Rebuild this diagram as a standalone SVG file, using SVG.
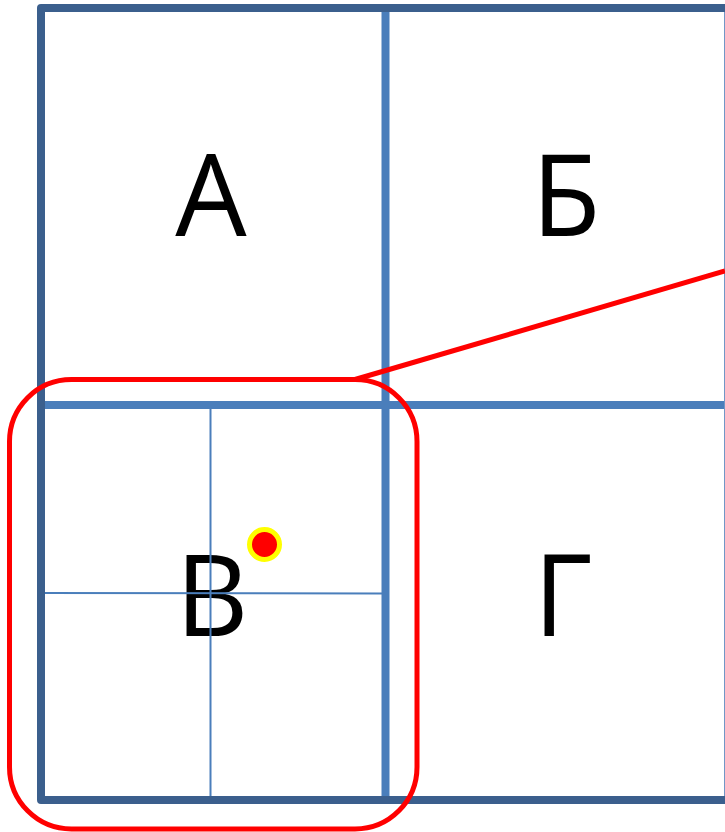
<svg xmlns="http://www.w3.org/2000/svg" width="725" height="832" viewBox="0 0 725 832">
<style>
.lbl{font-family:"Open Sans","Liberation Sans",sans-serif;font-size:113px;fill:#000;text-anchor:middle}
.outer{fill:none;stroke:#3b5f8d;stroke-width:8;stroke-linejoin:round}
.inner{stroke:#4a7ebb;stroke-width:8}
.thin{stroke:#4a7ebb;stroke-width:2}
.red{fill:none;stroke:#ff0000;stroke-width:5}
</style>
<rect width="725" height="832" fill="#fff"/>
<g id="cellA"><text class="lbl" x="211" y="236">А</text></g>
<g id="cellB"><text class="lbl" x="566" y="236">Б</text></g>
<g id="cellV"><text class="lbl" x="212" y="636">В</text></g>
<g id="cellG"><text class="lbl" x="563" y="636">Г</text></g>
<g id="grid">
<line class="inner" x1="385.5" y1="8" x2="385.5" y2="800"/>
<line class="inner" x1="41" y1="405" x2="725" y2="405"/>
<line class="thin" x1="210.5" y1="405" x2="210.5" y2="800"/>
<line class="thin" x1="41" y1="593" x2="383" y2="593.5"/>
<line x1="724.5" y1="8" x2="724.5" y2="800" stroke="#7196c6" stroke-width="1"/>
<path class="outer" d="M725,8 H41 V800 H725"/>
</g>
<g id="connectors">
<line class="red" x1="355" y1="379.5" x2="725" y2="271"/>
</g>
<g id="zoomFrame">
<rect class="red" x="9.5" y="379.5" width="407.5" height="449.5" rx="62" ry="62"/>
</g>
<g id="point">
<circle cx="264.5" cy="544.5" r="15" fill="#ff0000" stroke="#ffff00" stroke-width="5"/>
</g>
</svg>
